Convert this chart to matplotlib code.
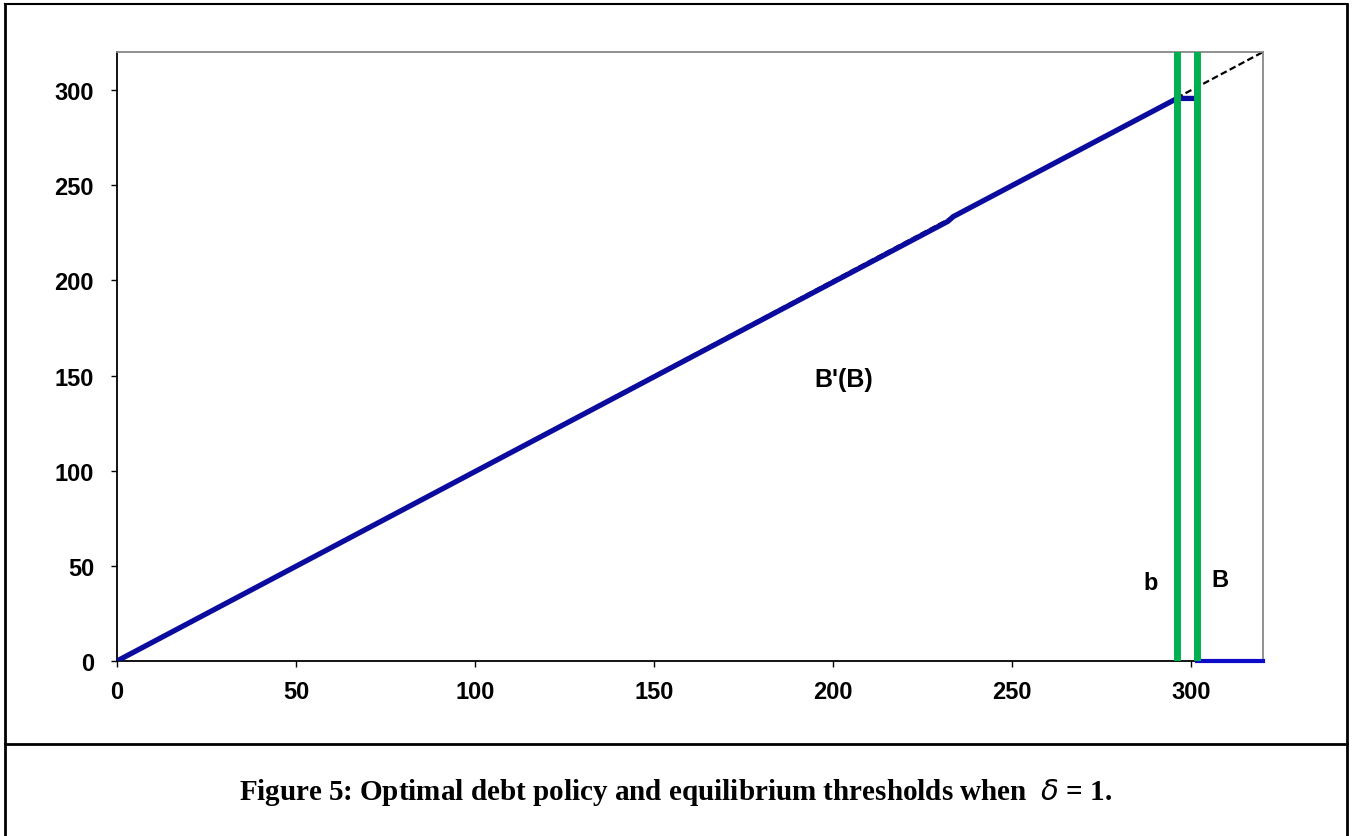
import matplotlib
matplotlib.use("Agg")
import matplotlib.pyplot as plt
from matplotlib.lines import Line2D

# ---- data ----
policy_x = [0, 232, 233.5, 296, 301.5, 301.5]
policy_y = [0, 231, 233.5, 295.6, 295.6, 300.5]
default_x = [301.5, 320]
default_y = [0, 0]
diag_x = [0, 320]
diag_y = [0, 320]
b_threshold = 296
B_threshold = 301.5
xticks = [0, 50, 100, 150, 200, 250, 300]
yticks = [0, 50, 100, 150, 200, 250, 300]

fig = plt.figure(figsize=(13.52, 8.37), dpi=100)
ax = fig.add_axes([117/1352, 1 - 662/837, (1263-117)/1352, (662-53)/837])

ax.plot(diag_x, diag_y, color='black', lw=1.6, ls=(0, (3, 1.5)), zorder=2)
ax.plot(policy_x, policy_y, color='#0b0b9e', lw=3.8, solid_joinstyle='miter', zorder=3)
ax.plot(default_x, default_y, color='#0b0bc8', lw=3, zorder=3, clip_on=False)
ax.axvline(b_threshold, color='#00b050', lw=5, zorder=4)
ax.axvline(B_threshold, color='#00b050', lw=5, zorder=4)

ax.set_xlim(0, 320)
ax.set_ylim(0, 320)
ax.set_xticks(xticks)
ax.set_yticks(yticks)
for lab in ax.get_xticklabels() + ax.get_yticklabels():
    lab.set_fontfamily('Liberation Sans')
    lab.set_fontweight('bold')
    lab.set_fontsize(17)
ax.tick_params(axis='both', direction='out', length=4.5, width=1, color='black')
ax.tick_params(axis='y', pad=12)
ax.tick_params(axis='x', pad=9)
ax.spines['left'].set_color('black')
ax.spines['bottom'].set_color('black')
ax.spines['top'].set_color('#888888')
ax.spines['right'].set_color('#888888')
for s in ax.spines.values():
    s.set_linewidth(1.3)

tfont = dict(family='Liberation Sans', weight='bold')
ax.text(203, 148, "B'(B)", ha='center', va='center', fontsize=18, **tfont)
ax.text(288.5, 41, "b", ha='center', va='center', fontsize=17, **tfont)
ax.text(308, 43, "B", ha='center', va='center', fontsize=17, **tfont)

# frame and caption
fig.add_artist(Line2D([5/1352, 5/1352], [0, 1 - 5/837], transform=fig.transFigure, color='black', lw=2))
fig.add_artist(Line2D([1347/1352, 1347/1352], [0, 1 - 5/837], transform=fig.transFigure, color='black', lw=2))
fig.add_artist(Line2D([5/1352, 1347/1352], [1 - 5/837, 1 - 5/837], transform=fig.transFigure, color='black', lw=1.5))
fig.add_artist(Line2D([5/1352, 1347/1352], [1 - 745/837, 1 - 745/837], transform=fig.transFigure, color='black', lw=2))

fig.text(0.5, 1 - 793/837, "Figure 5: Optimal debt policy and equilibrium thresholds when  $\\delta$ = 1.",
         ha='center', va='center', family='Liberation Serif', weight='bold', fontsize=21)

fig.savefig('out.png', dpi=100)
